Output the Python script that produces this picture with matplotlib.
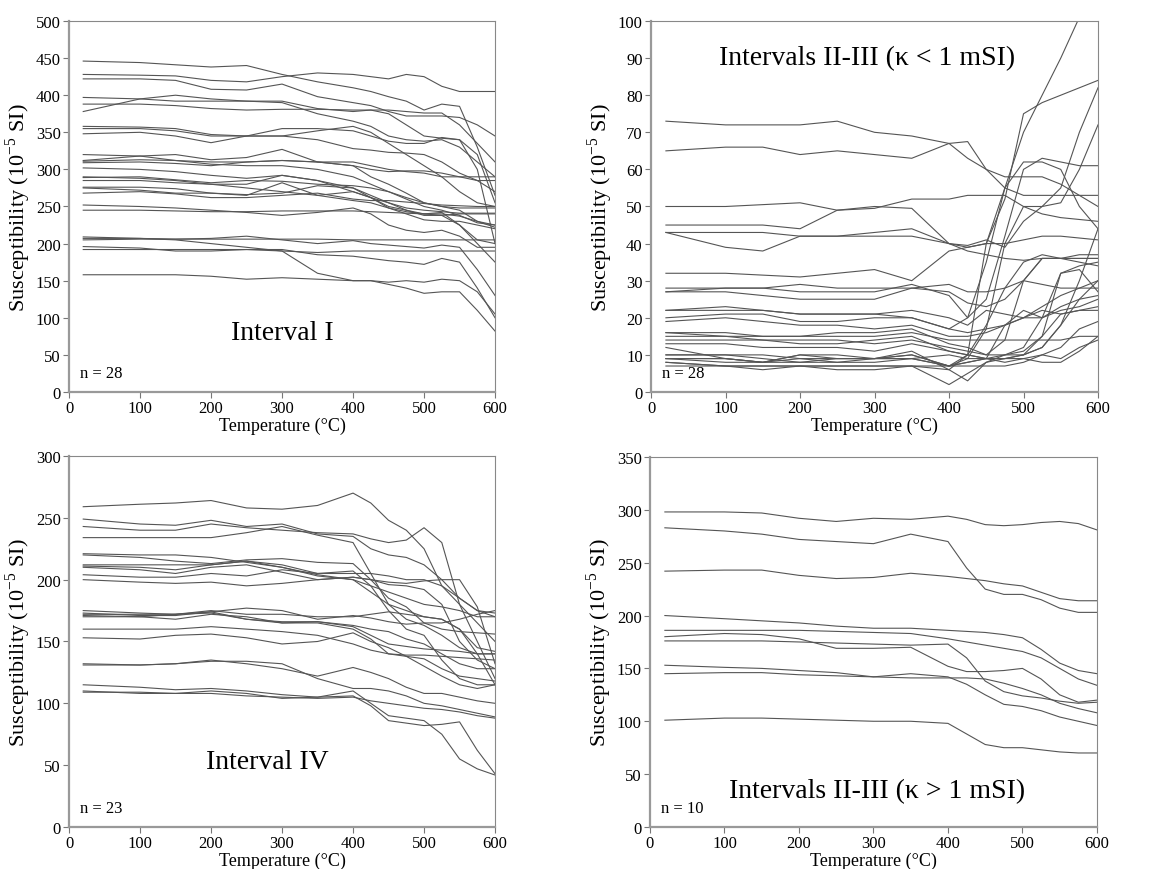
import numpy as np
import matplotlib
matplotlib.use('Agg')
import matplotlib.pyplot as plt

plt.rcParams['font.family'] = ['Liberation Serif', 'DejaVu Serif']
plt.rcParams['mathtext.fontset'] = 'custom'
plt.rcParams['mathtext.rm'] = 'Liberation Serif'

# temperatures sampled (deg C)
temps = [20, 100, 150, 200, 250, 300, 350, 400, 425, 450, 475, 500, 525, 550, 575, 600]

# Interval I (n = 28)
interval_1 = [
    [446, 444, 441, 438, 440, 428, 418, 410, 405, 398, 392, 380, 388, 385, 330, 265],
    [428, 427, 426, 420, 418, 425, 430, 428, 425, 422, 428, 425, 412, 405, 405, 405],
    [422, 422, 420, 408, 407, 415, 398, 390, 386, 378, 372, 372, 372, 370, 360, 345],
    [397, 395, 392, 392, 392, 390, 375, 365, 358, 345, 340, 338, 340, 330, 310, 290],
    [388, 388, 386, 382, 380, 381, 381, 380, 380, 380, 378, 376, 376, 360, 335, 310],
    [378, 395, 400, 395, 392, 392, 382, 378, 380, 375, 360, 345, 342, 340, 320, 255],
    [358, 357, 355, 347, 345, 345, 352, 358, 350, 335, 320, 305, 290, 270, 255, 250],
    [355, 355, 352, 345, 345, 355, 355, 352, 345, 338, 335, 335, 343, 340, 300, 200],
    [348, 350, 345, 336, 345, 345, 340, 328, 326, 323, 322, 320, 310, 295, 285, 270],
    [312, 318, 320, 313, 316, 327, 310, 310, 305, 300, 297, 295, 290, 290, 290, 290],
    [311, 313, 312, 310, 310, 312, 310, 305, 290, 280, 268, 255, 250, 248, 248, 248],
    [309, 310, 308, 305, 310, 312, 310, 305, 300, 297, 298, 298, 295, 290, 285, 285],
    [302, 300, 297, 292, 288, 292, 285, 270, 262, 255, 248, 245, 243, 241, 241, 241],
    [289, 290, 286, 282, 285, 284, 280, 278, 275, 270, 262, 255, 250, 245, 230, 222],
    [285, 285, 282, 280, 280, 292, 285, 275, 265, 255, 245, 238, 238, 240, 240, 240],
    [276, 276, 274, 268, 266, 268, 278, 275, 262, 248, 240, 232, 230, 230, 225, 220],
    [275, 272, 268, 268, 265, 282, 265, 258, 255, 248, 243, 240, 238, 225, 200, 175],
    [268, 270, 267, 262, 262, 265, 268, 260, 258, 258, 256, 254, 252, 251, 250, 250],
    [252, 250, 248, 245, 242, 238, 242, 248, 240, 225, 218, 215, 218, 210, 195, 195],
    [245, 245, 244, 243, 243, 244, 244, 244, 243, 242, 241, 240, 240, 237, 230, 225],
    [209, 207, 206, 207, 210, 205, 200, 204, 200, 198, 196, 194, 198, 195, 165, 130],
    [205, 206, 206, 206, 206, 206, 206, 205, 205, 205, 205, 205, 205, 205, 205, 205],
    [196, 194, 190, 190, 192, 192, 185, 183, 180, 177, 175, 172, 180, 175, 140, 100],
    [192, 192, 192, 192, 192, 190, 188, 190, 190, 190, 190, 190, 190, 190, 190, 190],
    [158, 158, 158, 156, 152, 154, 152, 150, 150, 148, 150, 148, 152, 150, 135, 105],
    [207, 207, 205, 200, 195, 190, 160, 150, 150, 145, 140, 133, 135, 135, 110, 82],
    [290, 288, 285, 280, 275, 270, 265, 270, 262, 250, 245, 240, 242, 225, 205, 200],
    [320, 318, 312, 307, 305, 305, 300, 290, 280, 270, 260, 250, 245, 238, 228, 225],
]

# Intervals II-III, kappa < 1 mSI (n = 28)
interval_23_low = [
    [73, 72, 72, 72, 73, 70, 69, 67, 63, 60, 58, 58, 58, 56, 53, 50],
    [65, 66, 66, 64, 65, 64, 63, 67, 67.5, 60, 55, 53, 53, 53, 53, 53],
    [50, 50, 50.5, 51, 49, 49.5, 52, 52, 53, 53, 53, 50, 48, 47, 46.5, 46],
    [45, 45, 45, 44, 49, 50, 49.5, 40, 39, 40, 40, 41, 42, 42, 41.5, 41],
    [43, 43, 43, 42, 42, 42, 42, 40, 38, 37, 36, 35.5, 36, 36, 36, 36],
    [43, 39, 38, 42, 42, 43, 44, 40, 39.5, 41, 39, 46, 50, 55, 70, 82],
    [32, 32, 31.5, 31, 32, 33, 30, 38, 39, 40, 52, 75, 78, 80, 82, 84],
    [28, 28, 28, 29, 28, 28, 28, 29, 27, 27, 28, 30, 29, 28, 28, 28],
    [27, 27, 26, 25, 25, 25, 28, 27, 24, 23, 25, 30, 36, 36, 36, 36],
    [27, 28, 28, 27, 27, 27, 29, 26, 20, 25, 42, 60, 63, 62, 61, 61],
    [22, 23, 22, 21, 21, 21, 22, 20, 18, 22, 21, 20, 22, 21, 22, 23],
    [22, 22, 22, 21, 21, 21, 20, 17, 20, 35, 55, 70, 80, 90, 101, 110],
    [20, 21, 21, 19, 19, 20, 20, 17, 16, 17, 18, 20, 23, 26, 28, 30],
    [19, 20, 19, 18, 18, 17, 18, 15, 15, 16, 18, 20, 20, 22, 23, 25],
    [16, 16, 15, 15, 16, 16, 17, 13, 12, 10, 14, 30, 36, 36, 37, 37],
    [16, 15, 14, 13, 13, 14, 15, 11, 10, 9, 9, 10, 12, 18, 30, 44],
    [15, 15, 15, 15, 15, 15, 16, 14, 14, 14, 14, 14, 14, 14, 15, 15],
    [14, 14, 14, 14, 14, 13, 14, 12, 11, 10, 10, 10, 12, 18, 25, 30],
    [13, 13, 12, 12, 12, 11, 13, 11, 10, 9, 8, 9, 10, 12, 17, 19],
    [12, 9, 8, 10, 9, 9, 10, 7, 8, 9, 18, 22, 20, 23, 25, 26],
    [10, 10, 9, 8, 9, 9, 10, 7, 10, 18, 28, 35, 37, 36, 35, 34],
    [9, 8, 8, 10, 10, 9, 11, 6, 3, 8, 10, 11, 15, 32, 34, 35],
    [9, 9, 8, 9, 8, 8, 9, 7, 8, 9, 9, 10, 15, 21, 22, 22],
    [8, 7, 7, 7, 7, 7, 7, 2, 5, 8, 9, 9, 8, 8, 11, 15],
    [8, 7, 6, 7, 6, 6, 7, 6, 10, 40, 55, 62, 62, 60, 50, 44],
    [10, 10, 10, 9, 9, 9, 9, 10, 9, 9, 10, 12, 20, 32, 33, 27],
    [9, 9, 8, 8, 8, 9, 9, 7, 9, 17, 40, 50, 50, 51, 60, 72],
    [7, 7, 7, 7, 7, 7, 7, 7, 7, 7, 7, 8, 10, 9, 12, 14],
]

# Interval IV (n = 23)
interval_4 = [
    [259, 261, 262, 264, 258, 257, 260, 270, 262, 248, 240, 225, 195, 180, 165, 150],
    [249, 245, 244, 248, 243, 245, 237, 235, 225, 220, 218, 212, 200, 185, 175, 170],
    [243, 240, 240, 245, 242, 240, 238, 237, 233, 230, 232, 242, 230, 180, 150, 120],
    [234, 234, 234, 234, 238, 243, 236, 230, 205, 180, 168, 163, 155, 145, 140, 140],
    [221, 220, 220, 218, 214, 210, 204, 200, 190, 180, 175, 170, 168, 160, 140, 115],
    [220, 218, 215, 213, 216, 217, 214, 213, 200, 185, 178, 165, 160, 158, 157, 156],
    [212, 212, 212, 212, 215, 212, 205, 205, 205, 203, 200, 200, 195, 185, 175, 173],
    [211, 210, 208, 212, 215, 210, 203, 200, 195, 190, 185, 180, 178, 175, 170, 170],
    [210, 208, 205, 210, 212, 206, 200, 202, 200, 198, 197, 199, 200, 200, 178, 132],
    [204, 202, 202, 205, 203, 208, 205, 207, 195, 175, 160, 155, 135, 120, 115, 115],
    [200, 198, 197, 198, 195, 197, 200, 202, 200, 196, 195, 192, 180, 150, 135, 128],
    [175, 173, 172, 174, 177, 175, 168, 171, 169, 166, 164, 165, 165, 168, 172, 175],
    [173, 171, 171, 174, 168, 165, 166, 163, 160, 158, 152, 148, 140, 132, 128, 128],
    [172, 172, 172, 175, 172, 172, 170, 170, 172, 174, 172, 170, 168, 160, 145, 142],
    [171, 170, 168, 172, 170, 165, 165, 160, 152, 140, 138, 130, 122, 115, 112, 115],
    [170, 170, 172, 173, 168, 166, 166, 162, 155, 148, 146, 144, 143, 142, 140, 140],
    [160, 160, 160, 162, 160, 158, 155, 148, 143, 140, 139, 139, 138, 137, 136, 135],
    [153, 152, 155, 156, 153, 148, 150, 157, 150, 145, 138, 136, 128, 122, 120, 118],
    [132, 131, 132, 135, 132, 128, 122, 129, 125, 120, 113, 108, 108, 105, 102, 100],
    [131, 131, 132, 134, 134, 132, 120, 112, 112, 110, 106, 100, 98, 95, 92, 89],
    [115, 113, 111, 112, 110, 107, 105, 110, 100, 90, 88, 86, 75, 55, 47, 42],
    [110, 108, 108, 110, 108, 104, 105, 106, 98, 86, 84, 82, 83, 85, 62, 43],
    [109, 109, 108, 108, 106, 105, 104, 105, 102, 100, 98, 96, 95, 93, 90, 88],
]

# Intervals II-III, kappa > 1 mSI (n = 10)
interval_23_high = [
    [298, 298, 297, 292, 289, 292, 291, 294, 291, 286, 285, 286, 288, 289, 287, 281],
    [283, 280, 277, 272, 270, 268, 277, 270, 245, 225, 220, 220, 215, 207, 203, 203],
    [242, 243, 243, 238, 235, 236, 240, 237, 235, 233, 230, 228, 222, 216, 214, 214],
    [200, 197, 195, 193, 190, 188, 188, 186, 185, 184, 182, 179, 168, 155, 148, 145],
    [186, 186, 186, 186, 185, 184, 183, 178, 175, 172, 169, 166, 160, 150, 140, 134],
    [180, 183, 182, 178, 169, 169, 170, 152, 147, 147, 148, 150, 140, 125, 118, 120],
    [176, 176, 176, 175, 174, 173, 172, 173, 160, 138, 128, 124, 122, 119, 117, 118],
    [153, 151, 150, 148, 146, 142, 145, 142, 135, 125, 116, 114, 110, 104, 100, 96],
    [145, 146, 146, 144, 143, 142, 141, 141, 141, 140, 136, 131, 125, 117, 112, 108],
    [101, 103, 103, 102, 101, 100, 100, 98, 88, 78, 75, 75, 73, 71, 70, 70],
]

panels = [
    (interval_1, 500, 50, 'Interval I', 300, 80, 'n = 28', [0.0593, 0.5483, 0.366, 0.4264]),
    (interval_23_low, 100, 10, 'Intervals II-III (\u03ba < 1 mSI)', 290, 90, 'n = 28', [0.5593, 0.5483, 0.384, 0.4264]),
    (interval_4, 300, 50, 'Interval IV', 279, 53, 'n = 23', [0.0593, 0.0483, 0.366, 0.4264]),
    (interval_23_high, 350, 50, 'Intervals II-III (\u03ba > 1 mSI)', 305, 34, 'n = 10', [0.5584, 0.0483, 0.384, 0.4253]),
]

fig = plt.figure(figsize=(11.64, 8.7), dpi=100)
for curves, ymax, ystep, label, lx, ly, ntext, rect in panels:
    ax = fig.add_axes(rect)
    for c in curves:
        ax.plot(temps, c, color='#555555', lw=0.8)
    ax.set_xlim(0, 600)
    ax.set_ylim(0, ymax)
    ax.set_xticks(np.arange(0, 601, 100))
    ax.set_yticks(np.arange(0, ymax + 1, ystep))
    ax.tick_params(direction='out', length=4, width=0.8, labelsize=12, color='#777777', pad=2)
    for s in ['top', 'right']:
        ax.spines[s].set_color('#888888')
        ax.spines[s].set_linewidth(0.8)
    for s in ['left', 'bottom']:
        ax.spines[s].set_color('#999999')
        ax.spines[s].set_linewidth(1.6)
    ax.set_xlabel('Temperature (\u00b0C)', fontsize=13, labelpad=0)
    ax.set_ylabel('Susceptibility (10$^{-5}$ SI)', fontsize=16, labelpad=2)
    ax.text(lx, ly, label, fontsize=20, ha='center', va='center')
    ax.text(0.025, 0.03, ntext, transform=ax.transAxes, fontsize=12, ha='left', va='bottom')

fig.savefig('out.png', dpi=100)
